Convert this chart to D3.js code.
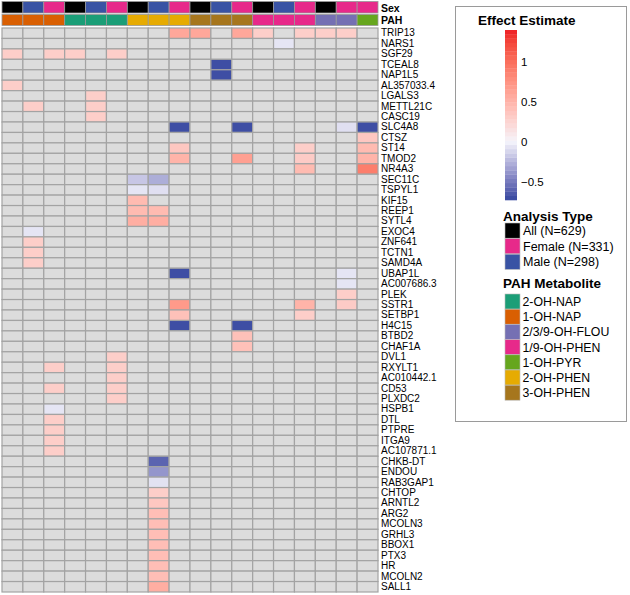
<!DOCTYPE html>
<html>
<head>
<meta charset="utf-8">
<script src="https://cdn.jsdelivr.net/npm/d3@7"></script>
<style>
  html, body { margin: 0; padding: 0; background: #fff; }
  svg { display: block; font-family: "Liberation Sans", Arial, sans-serif; }
</style>
</head>
<body>
<svg id="chart" width="630" height="595"></svg>
<script>
// ---------------- DATA ----------------
const genes = ["TRIP13","NARS1","SGF29","TCEAL8","NAP1L5","AL357033.4","LGALS3","METTL21C","CASC19","SLC4A8",
  "CTSZ","ST14","TMOD2","NR4A3","SEC11C","TSPYL1","KIF15","REEP1","SYTL4","EXOC4","ZNF641","TCTN1","SAMD4A",
  "UBAP1L","AC007686.3","PLEK","SSTR1","SETBP1","H4C15","BTBD2","CHAF1A","DVL1","RXYLT1","AC010442.1","CD53",
  "PLXDC2","HSPB1","DTL","PTPRE","ITGA9","AC107871.1","CHKB-DT","ENDOU","RAB3GAP1","CHTOP","ARNTL2","ARG2",
  "MCOLN3","GRHL3","BBOX1","PTX3","HR","MCOLN2","SALL1"];

// column annotations (18 columns)
const columns = d3.range(1, 19);
const sexByColumn = ["All","Male","Female","All","Male","Female","All","Male","Female",
  "All","Male","Female","All","Male","Female","All","Female","Female"];
const pahByColumn = ["1-OH-NAP","1-OH-NAP","1-OH-NAP","2-OH-NAP","2-OH-NAP","2-OH-NAP",
  "2-OH-PHEN","2-OH-PHEN","2-OH-PHEN","3-OH-PHEN","3-OH-PHEN","3-OH-PHEN",
  "1/9-OH-PHEN","1/9-OH-PHEN","1/9-OH-PHEN","2/3/9-OH-FLOU","2/3/9-OH-FLOU","1-OH-PYR"];

// significant effect estimates: [gene, column, value]
const effects = [
  ["TRIP13",9,0.6],["TRIP13",10,0.6],["TRIP13",12,0.6],["TRIP13",13,0.3],["TRIP13",15,0.3],["TRIP13",16,0.3],["TRIP13",17,0.3],
  ["NARS1",14,-0.06],
  ["SGF29",1,0.3],["SGF29",3,0.3],["SGF29",4,0.3],["SGF29",6,0.3],
  ["TCEAL8",11,-0.7],["NAP1L5",11,-0.7],
  ["AL357033.4",1,0.3],["LGALS3",5,0.3],["METTL21C",2,0.3],["METTL21C",5,0.3],["CASC19",5,0.3],
  ["SLC4A8",9,-0.7],["SLC4A8",12,-0.7],["SLC4A8",17,-0.08],["SLC4A8",18,-0.7],
  ["CTSZ",18,0.35],
  ["ST14",9,0.35],["ST14",15,0.3],["ST14",18,0.45],
  ["TMOD2",9,0.5],["TMOD2",12,0.65],["TMOD2",15,0.32],["TMOD2",18,0.5],
  ["NR4A3",15,0.45],["NR4A3",18,0.9],
  ["SEC11C",7,-0.18],["SEC11C",8,-0.28],
  ["TSPYL1",7,-0.06],["TSPYL1",8,-0.08],
  ["KIF15",7,0.45],["REEP1",7,0.45],["REEP1",8,0.45],["SYTL4",7,0.55],["SYTL4",8,0.55],
  ["EXOC4",2,-0.06],["ZNF641",2,0.3],["TCTN1",2,0.3],["SAMD4A",2,0.3],
  ["UBAP1L",9,-0.7],["UBAP1L",17,-0.06],["AC007686.3",17,-0.06],
  ["PLEK",17,0.3],
  ["SSTR1",9,0.7],["SSTR1",15,0.5],["SSTR1",17,0.32],
  ["SETBP1",9,0.4],["SETBP1",15,0.3],
  ["H4C15",9,-0.7],["H4C15",12,-0.7],
  ["BTBD2",12,0.4],["CHAF1A",12,0.4],
  ["DVL1",6,0.3],["RXYLT1",3,0.3],["RXYLT1",6,0.3],["AC010442.1",6,0.3],["CD53",3,0.3],["CD53",6,0.3],["PLXDC2",6,0.3],
  ["HSPB1",3,-0.06],["DTL",3,0.3],["PTPRE",3,0.3],["ITGA9",3,0.3],["AC107871.1",3,0.3],
  ["CHKB-DT",8,-0.6],["ENDOU",8,-0.38],["RAB3GAP1",8,-0.07],["CHTOP",8,0.3],["ARNTL2",8,0.35],
  ["ARG2",8,0.42],["MCOLN3",8,0.42],["GRHL3",8,0.42],["BBOX1",8,0.42],["PTX3",8,0.42],["HR",8,0.42],
  ["MCOLN2",8,0.42],["SALL1",8,0.55]
];

const analysisTypes = ["All (N=629)","Female (N=331)","Male (N=298)"];
const analysisKeys = ["All","Female","Male"];
const pahMetabolites = ["2-OH-NAP","1-OH-NAP","2/3/9-OH-FLOU","1/9-OH-PHEN","1-OH-PYR","2-OH-PHEN","3-OH-PHEN"];
const colorbarTicks = [1, 0.5, 0, -0.5];
const colorDomain = [-0.73, 0, 1.4];

// ---------------- STYLE ----------------
const sexColors = {All: "#000000", Female: "#E7298A", Male: "#3953A4"};
const pahColors = {"2-OH-NAP":"#1B9E77","1-OH-NAP":"#D95F02","2/3/9-OH-FLOU":"#7570B3","1/9-OH-PHEN":"#E7298A",
  "1-OH-PYR":"#66A61E","2-OH-PHEN":"#E6AB02","3-OH-PHEN":"#A6761D"};
const color = d3.scaleLinear().domain(colorDomain).range(["#3448A0","#F4F4FB","#EE1C25"])
  .interpolate(d3.interpolateLab).clamp(true);

const svg = d3.select("#chart");

const x = d3.scaleBand().domain(columns).range([2, 378]);
const y = d3.scaleBand().domain(genes).range([28, 592]);

// annotation rows
const annot = svg.append("g");
annot.selectAll("rect.sex").data(columns).join("rect")
  .attr("class","sex")
  .attr("x", d => x(d)).attr("y", 1.5)
  .attr("width", x.bandwidth()).attr("height", 11.5)
  .attr("fill", d => sexColors[sexByColumn[d-1]])
  .attr("stroke", "#9a9a9a").attr("stroke-width", 0.8);
annot.selectAll("rect.pah").data(columns).join("rect")
  .attr("class","pah")
  .attr("x", d => x(d)).attr("y", 14.5)
  .attr("width", x.bandwidth()).attr("height", 11)
  .attr("fill", d => pahColors[pahByColumn[d-1]])
  .attr("stroke", "#9a9a9a").attr("stroke-width", 0.8);
annot.append("text").attr("x", 381).attr("y", 11.5).attr("font-size", 10.5).attr("font-weight","bold").text("Sex");
annot.append("text").attr("x", 381).attr("y", 24).attr("font-size", 10.5).attr("font-weight","bold").text("PAH");

// heatmap
const lookup = new Map(effects.map(d => [d[0] + "|" + d[1], d[2]]));
const cells = [];
genes.forEach(g => columns.forEach(c => cells.push({g, c, v: lookup.get(g + "|" + c)})));
const hm = svg.append("g");
hm.selectAll("rect").data(cells).join("rect")
  .attr("x", d => x(d.c)).attr("y", d => y(d.g))
  .attr("width", x.bandwidth()).attr("height", y.bandwidth())
  .attr("fill", d => d.v === undefined ? "#DCDCDC" : color(d.v))
  .attr("stroke", "#A3A3A3").attr("stroke-width", 1.2);

// row labels
const yAxis = d3.axisRight(y).tickSize(0).tickPadding(3);
const ya = svg.append("g").attr("transform", "translate(378,0)").call(yAxis);
ya.select(".domain").remove();
ya.selectAll("text").attr("font-size", 10).attr("font-family", "Liberation Sans, Arial, sans-serif").attr("fill", "#000");

// legend box
const lg = svg.append("g");
lg.append("rect").attr("x", 455.5).attr("y", 6.5).attr("width", 171).attr("height", 415)
  .attr("fill", "#fff").attr("stroke", "#9a9a9a").attr("stroke-width", 1);

lg.append("text").attr("x", 478).attr("y", 25).attr("font-size", 13.5).attr("font-weight", "bold").text("Effect Estimate");

// colorbar
const cb = d3.scaleLinear().domain([colorDomain[0], colorDomain[2]]).range([200, 30]);
const nBands = 40;
const bandVals = d3.range(nBands).map(i => colorDomain[0] + (i + 0.5) * (colorDomain[2] - colorDomain[0]) / nBands);
const bh = (200 - 30) / nBands;
lg.selectAll("rect.cb").data(bandVals).join("rect").attr("class","cb")
  .attr("x", 505).attr("width", 12)
  .attr("y", d => cb(d) - bh / 2).attr("height", bh + 0.3)
  .attr("fill", d => color(d));
lg.selectAll("text.cbt").data(colorbarTicks).join("text").attr("class","cbt")
  .attr("x", 521).attr("y", d => cb(d) + 4.5).attr("font-size", 11.5)
  .text(d => d < 0 ? "\u2212" + Math.abs(d) : String(d));

// Analysis type
lg.append("text").attr("x", 503).attr("y", 221).attr("font-size", 13.5).attr("font-weight", "bold").text("Analysis Type");
const at = lg.selectAll("g.at").data(analysisKeys).join("g").attr("class","at")
  .attr("transform", (d, i) => `translate(505,${223 + i * 15.6})`);
at.append("rect").attr("width", 15).attr("height", 15.2).attr("fill", d => sexColors[d])
  .attr("stroke", "#bbb").attr("stroke-width", 0.6);
at.append("text").attr("x", 18).attr("y", 12).attr("font-size", 12.5).text((d, i) => analysisTypes[i]);

// PAH metabolite
lg.append("text").attr("x", 503).attr("y", 288).attr("font-size", 13.5).attr("font-weight", "bold").text("PAH Metabolite");
const pm = lg.selectAll("g.pm").data(pahMetabolites).join("g").attr("class","pm")
  .attr("transform", (d, i) => `translate(505,${294 + i * 15.2})`);
pm.append("rect").attr("width", 15).attr("height", 15).attr("fill", d => pahColors[d])
  .attr("stroke", "#bbb").attr("stroke-width", 0.6);
pm.append("text").attr("x", 17.5).attr("y", 12).attr("font-size", 12.3).text(d => d);
</script>
</body>
</html>
